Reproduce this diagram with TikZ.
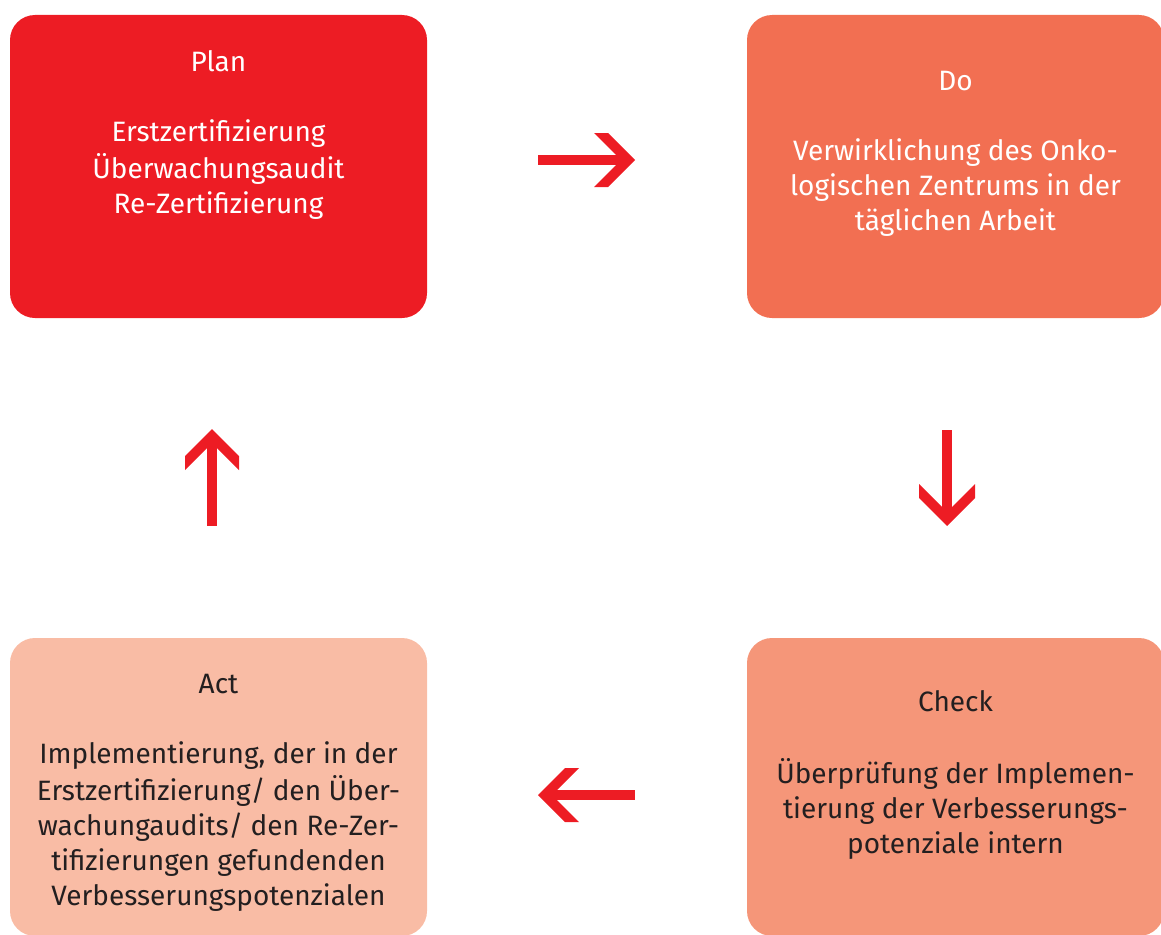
\documentclass[tikz,border=0pt]{standalone}
\usepackage{fontspec}
\setmainfont{Fira Sans}
\definecolor{planred}{HTML}{ED1C24}
\definecolor{docol}{HTML}{F26F52}
\definecolor{checkcol}{HTML}{F59679}
\definecolor{actcol}{HTML}{F9BCA5}
\definecolor{txtdark}{HTML}{231F20}
\begin{document}
\begin{tikzpicture}[x=1pt,y=-1pt,
  box/.style={rectangle, rounded corners=25pt, minimum width=417pt, inner sep=0pt, draw=none},
  boxtext/.style={align=center, inner sep=0pt, font=\fontsize{28}{35}\selectfont},
  arrowshape/.style={fill=planred, draw=none}]
\useasboundingbox (0,0) rectangle (1161,934);
% boxes
\node[box, fill=planred, minimum height=303pt] (plan) at (218.5,166.5) {};
\node[box, fill=docol, minimum height=303pt] (do) at (955.5,166.5) {};
\node[box, fill=actcol, minimum height=298pt] (act) at (218.5,787) {};
\node[box, fill=checkcol, minimum height=298pt] (check) at (955.5,787) {};
% texts
\node[boxtext, text=white] (plantext) at (218.5,135.5)
  {\strut Plan\\\strut\\\strut Erstzertifizierung\\\strut Überwachungsaudit\\\strut Re-Zertifizierung};
\node[boxtext, text=white] (dotext) at (955.5,153)
  {\strut Do\\\strut\\\strut Verwirklichung des Onko-\\\strut logischen Zentrums in der\\\strut täglichen Arbeit};
\node[boxtext, text=txtdark] (acttext) at (218.5,792.5)
  {\strut Act\\\strut\\\strut Implementierung, der in der\\\strut Erstzertifizierung/ den Über-\\\strut wachungaudits/ den Re-Zer-\\\strut tifizierungen gefundenden\\\strut Verbesserungspotenzialen};
\node[boxtext, text=txtdark] (checktext) at (955.5,775.5)
  {\strut Check\\\strut\\\strut Überprüfung der Implemen-\\\strut tierung der Verbesserungs-\\\strut potenziale intern};
% arrows
% right (Plan -> Do)
\fill[arrowshape] (538,155) rectangle (626,165);
\fill[arrowshape] (594,133) -- (608,133) -- (635,160) -- (608,187) -- (594,187) -- (621,160) -- cycle;
% down (Do -> Check)
\fill[arrowshape] (942,430) rectangle (952,515);
\fill[arrowshape] (919,484) -- (947,512) -- (975,484) -- (975,498) -- (947,526) -- (919,498) -- cycle;
% left (Check -> Act)
\fill[arrowshape] (548,790) rectangle (635,800);
\fill[arrowshape] (579,768) -- (565,768) -- (538,795) -- (565,822) -- (579,822) -- (552,795) -- cycle;
% up (Act -> Plan)
\fill[arrowshape] (207,438) rectangle (217,526);
\fill[arrowshape] (185,470) -- (185,456) -- (212,429) -- (239,456) -- (239,470) -- (212,443) -- cycle;
\end{tikzpicture}
\end{document}
